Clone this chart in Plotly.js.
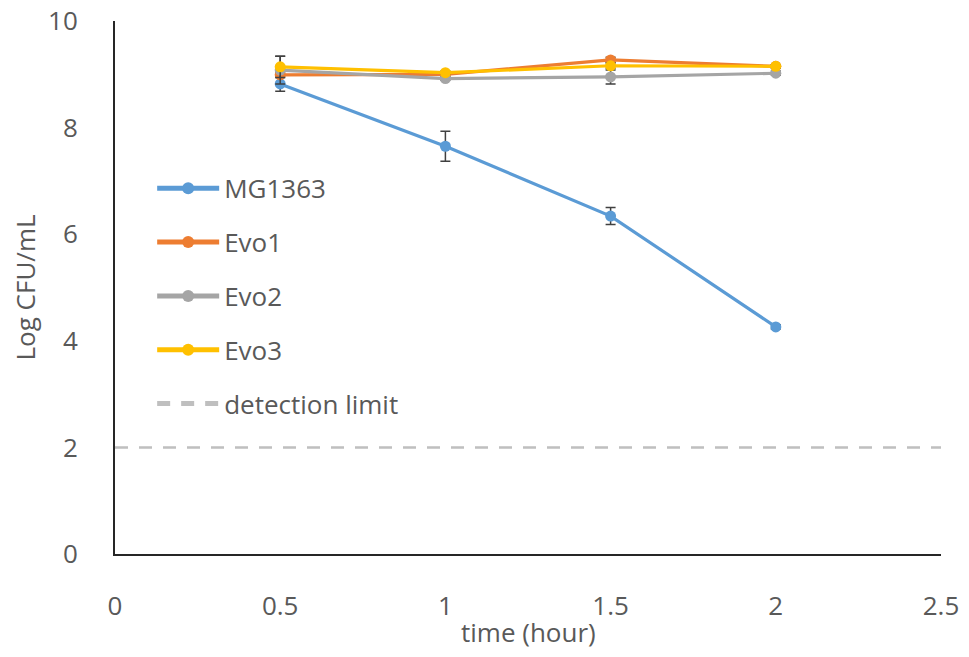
<!DOCTYPE html>
<html>
<head>
<meta charset="utf-8">
<script src="https://cdn.plot.ly/plotly-3.0.1.min.js"></script>
<style>
  body { margin: 0; background: #fff; }
  #chart { width: 969px; height: 657px; }
</style>
</head>
<body>
<div id="chart"></div>
<script>
// time points (hour)
var timeHours = [0.5, 1, 1.5, 2];

// Log CFU/mL per strain, with error bar sizes
var mg1363 = [8.82, 7.65, 6.34, 4.26];
var mg1363Err = [0.14, 0.28, 0.16, 0.04];
var evo1 = [8.99, 9.00, 9.27, 9.15];
var evo1Err = [0.05, 0.03, 0.05, 0.03];
var evo2 = [9.08, 8.92, 8.95, 9.02];
var evo2Err = [0.26, 0.03, 0.13, 0.04];
var evo3 = [9.14, 9.03, 9.16, 9.15];
var evo3Err = [0.20, 0.03, 0.05, 0.03];

// detection limit line
var limitX = [0, 2.5];
var limitY = [2, 2];

var xTitle = "time (hour)";
var yTitle = "Log CFU/mL";

var seriesNames = ["MG1363", "Evo1", "Evo2", "Evo3"];
var seriesColors = ["#5B9BD5", "#ED7D31", "#A5A5A5", "#FFC000"];
var seriesVals = [mg1363, evo1, evo2, evo3];
var seriesErrs = [mg1363Err, evo1Err, evo2Err, evo3Err];

var data = [];
for (var i = 0; i < seriesNames.length; i++) {
    data.push({
        x: timeHours,
        y: seriesVals[i],
        name: seriesNames[i],
        legendgroup: "g" + i,
        type: "scatter",
        mode: "lines+markers",
        line: {color: seriesColors[i], width: 3.2},
        marker: {color: seriesColors[i], size: 11},
        error_y: {
            type: "data",
            array: seriesErrs[i],
            visible: true,
            color: "#404040",
            thickness: 1.5,
            width: 5
        }
    });
}

data.push({
    x: limitX,
    y: limitY,
    name: "detection limit",
    legendgroup: "g4",
    type: "scatter",
    mode: "lines",
    line: {color: "#BFBFBF", width: 2.5, dash: "13px,11px"}
});

var fontFamily = "'Open Sans', 'Noto Sans', sans-serif";

var layout = {
    width: 969,
    height: 657,
    paper_bgcolor: "#ffffff",
    plot_bgcolor: "#ffffff",
    font: {family: fontFamily, size: 26, color: "#595959"},
    margin: {l: 115, r: 28, t: 21, b: 103},
    showlegend: true,
    legend: {
        x: 0.045,
        y: 0.73,
        xanchor: "left",
        yanchor: "top",
        bgcolor: "rgba(0,0,0,0)",
        font: {size: 26, color: "#595959"},
        traceorder: "grouped",
        tracegroupgap: 17,
        itemsizing: "constant",
        itemwidth: 62
    },
    xaxis: {
        range: [0, 2.5],
        dtick: 0.5,
        showgrid: false,
        zeroline: false,
        showline: true,
        linecolor: "#262626",
        linewidth: 2,
        ticks: "",
        ticklabelstandoff: 28,
        tickfont: {size: 26, color: "#595959"}
    },
    yaxis: {
        range: [0, 10],
        dtick: 2,
        showgrid: false,
        zeroline: false,
        showline: true,
        linecolor: "#262626",
        linewidth: 2,
        ticks: "",
        ticklabelstandoff: 30,
        tickfont: {size: 26, color: "#595959"}
    },
    // axis titles placed as annotations to sit where the original has them
    annotations: [
        {
            text: xTitle, xref: "paper", yref: "paper",
            x: 0.5, y: -0.146, xanchor: "center", yanchor: "middle",
            showarrow: false, font: {size: 26, color: "#595959"}
        },
        {
            text: yTitle, xref: "paper", yref: "paper",
            x: -0.109, y: 0.5, xanchor: "center", yanchor: "middle",
            textangle: -90, showarrow: false, font: {size: 26, color: "#595959"}
        }
    ]
};

Plotly.newPlot("chart", data, layout, {displayModeBar: false, staticPlot: true});
</script>
</body>
</html>
